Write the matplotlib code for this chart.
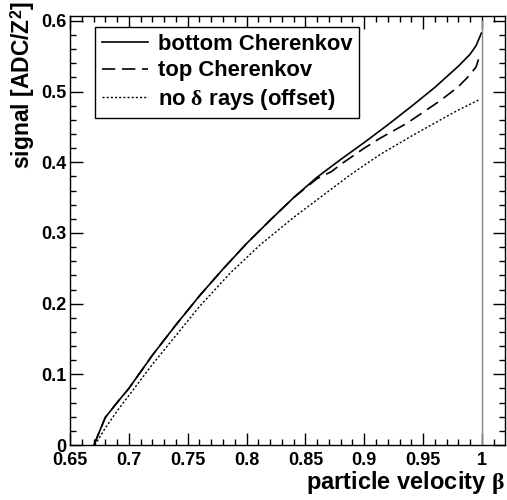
import numpy as np
import matplotlib
matplotlib.use('Agg')
import matplotlib.pyplot as plt
from matplotlib.ticker import MultipleLocator, FuncFormatter

# SIGNAL vs BETA DATA --------------------------------------------------------+
beta_bottom = [0.6704, 0.675, 0.680, 0.690, 0.700, 0.720, 0.740, 0.760, 0.780,
               0.800, 0.820, 0.840, 0.860, 0.880, 0.900, 0.920, 0.940, 0.960,
               0.980, 0.990, 0.995, 0.9996]
sig_bottom = [0.000, 0.019, 0.039, 0.060, 0.080, 0.127, 0.170, 0.211, 0.249,
              0.285, 0.318, 0.350, 0.379, 0.404, 0.428, 0.453, 0.479, 0.506,
              0.536, 0.553, 0.565, 0.583]

beta_top = [0.6704, 0.675, 0.680, 0.690, 0.700, 0.720, 0.740, 0.760, 0.780,
            0.800, 0.820, 0.840, 0.860, 0.8723, 0.880, 0.900, 0.9134, 0.936,
            0.9644, 0.980, 0.990, 0.995, 0.9983]
sig_top = [0.000, 0.019, 0.039, 0.060, 0.080, 0.127, 0.170, 0.211, 0.249,
           0.285, 0.318, 0.350, 0.377, 0.387, 0.397, 0.420, 0.434, 0.455,
           0.487, 0.507, 0.524, 0.535, 0.5516]

beta_nodelta = [0.6712, 0.680, 0.690, 0.700, 0.720, 0.740, 0.760, 0.786,
                0.8114, 0.840, 0.860, 0.8879, 0.9134, 0.940, 0.9644, 0.980,
                0.997]
sig_nodelta = [0.000, 0.024, 0.048, 0.070, 0.114, 0.155, 0.196, 0.243,
               0.283, 0.322, 0.347, 0.382, 0.411, 0.437, 0.4597, 0.474,
               0.488]

labels = ['bottom Cherenkov', 'top Cherenkov', r'no $\mathrm{\delta}$ rays (offset)']

# STYLE ----------------------------------------------------------------------+
plt.rcParams['font.family'] = 'Liberation Sans'
plt.rcParams['font.weight'] = 'bold'
plt.rcParams['mathtext.fontset'] = 'custom'
plt.rcParams['mathtext.rm'] = 'Liberation Serif'
plt.rcParams['mathtext.it'] = 'Liberation Serif:italic'
plt.rcParams['mathtext.bf'] = 'Liberation Sans:bold'

fig = plt.figure(figsize=(5.07, 5.0), dpi=100)
ax = fig.add_axes([70/507, 55/500, 435/507, 429/500])

ax.plot(beta_bottom, sig_bottom, color='black', lw=1.2, ls='-', label=labels[0])
ax.plot(beta_top, sig_top, color='black', lw=1.2, ls=(0, (8, 4)), label=labels[1])
ax.plot(beta_nodelta, sig_nodelta, color='black', lw=1.0, ls=(0, (1.5, 1.5)), label=labels[2])

# velocity limit
ax.plot([1.0, 1.0], [0.0, 0.6], color='#888888', lw=1.0)

ax.set_xlim(0.65, 1.0196)
ax.set_ylim(0.0, 0.607)

ax.xaxis.set_major_locator(MultipleLocator(0.05))
ax.xaxis.set_minor_locator(MultipleLocator(0.01))
ax.yaxis.set_major_locator(MultipleLocator(0.1))
ax.yaxis.set_minor_locator(MultipleLocator(0.02))
fmt = FuncFormatter(lambda v, p: '%g' % round(v, 3))
ax.xaxis.set_major_formatter(fmt)
ax.yaxis.set_major_formatter(fmt)

ax.tick_params(which='both', direction='in', top=True, right=True, width=1.0)
ax.tick_params(which='major', length=9, labelsize=13)
ax.tick_params(which='minor', length=4.5)
ax.tick_params(axis='x', pad=5)
ax.tick_params(axis='y', pad=2.5)
for sp in ax.spines.values():
    sp.set_linewidth(1.0)

ax.set_xlabel(r'particle velocity $\mathrm{\beta}$', fontsize=17, fontweight='bold', loc='right')
ax.xaxis.set_label_coords(1.0, -0.056)
ax.set_ylabel(r'signal [ADC/Z$^{\mathbf{2}}$]', fontsize=16.5, fontweight='bold', loc='top')
ax.yaxis.set_label_coords(-0.076, 1.035)

leg = ax.legend(loc='upper left', bbox_to_anchor=(0.0575, 0.974), borderaxespad=0,
                fancybox=False, edgecolor='black', framealpha=1,
                handlelength=2.1, handletextpad=0.45, labelspacing=0.25,
                borderpad=0.3, prop={'weight': 'bold', 'size': 15.8})
leg.get_frame().set_linewidth(1.0)

plt.savefig('out.png', dpi=100)
plt.close(fig)
